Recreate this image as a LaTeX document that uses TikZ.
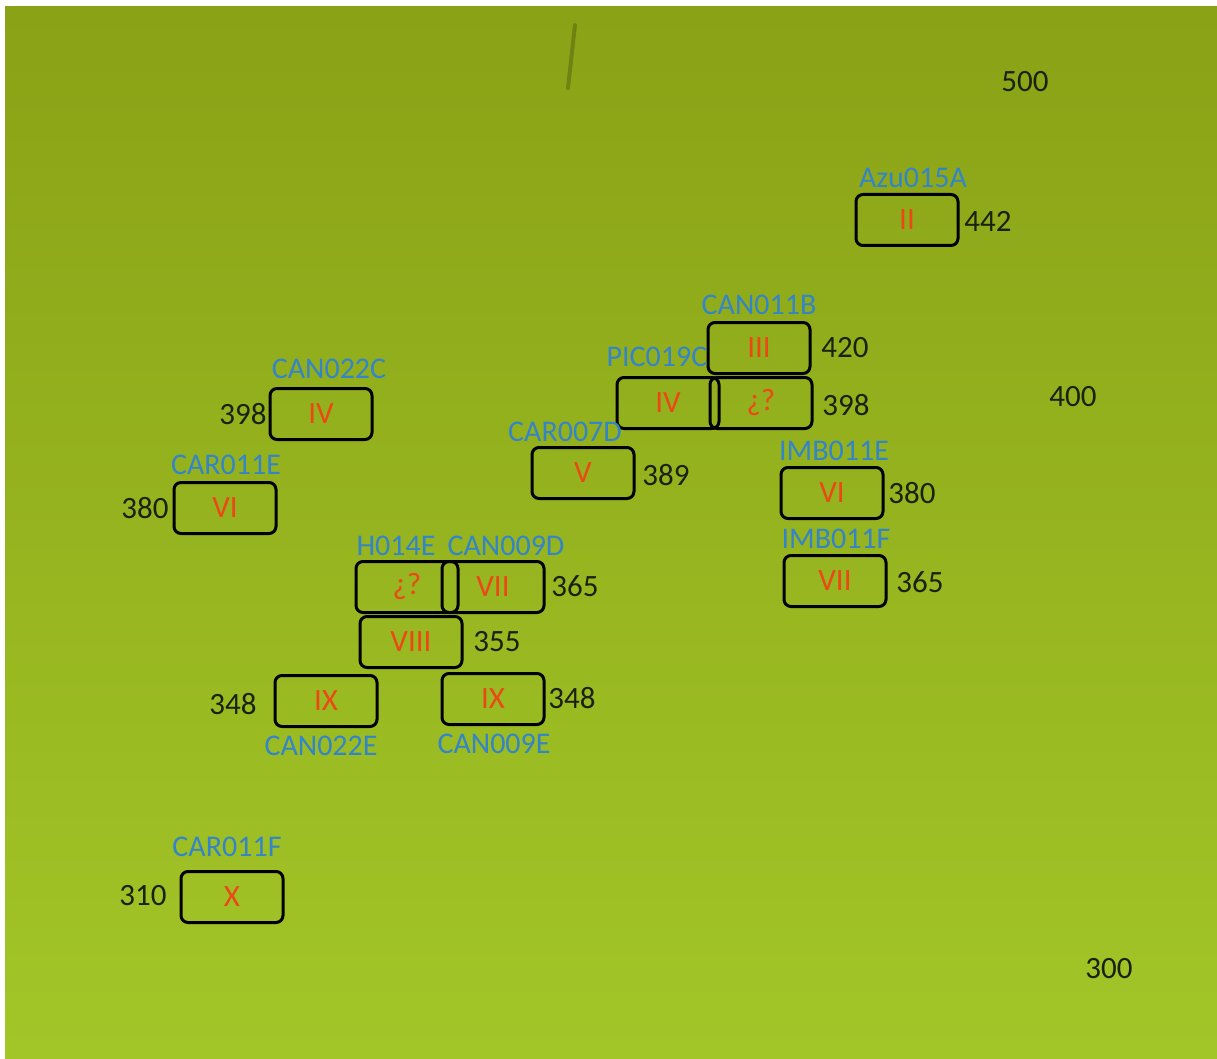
\documentclass[tikz,border=0pt]{standalone}
\usepackage{fontspec}
\setmainfont{Carlito}
\definecolor{geltop}{RGB}{138,162,22}
\definecolor{gelmid}{RGB}{150,180,30}
\definecolor{gelbottom}{RGB}{162,198,40}
\definecolor{lanename}{RGB}{52,132,200}
\definecolor{allele}{RGB}{236,72,22}
\definecolor{sizeink}{RGB}{24,34,14}
\tikzset{
  band/.style={draw=black,line width=3pt,rounded corners=7pt,
    minimum width=102pt,minimum height=51pt,inner sep=0pt,
    text=allele,font=\fontsize{31}{36}\selectfont},
  lane/.style={text=lanename,inner sep=0pt,font=\fontsize{30}{35}\selectfont},
  size/.style={text=sizeink,inner sep=0pt,font=\fontsize{31}{36}\selectfont}
}
\begin{document}
\begin{tikzpicture}[x=1pt,y=-1pt]
                \useasboundingbox (0,0) rectangle (1217,1059);
                \fill[white] (0,0) rectangle (1217,1059);
                \shade[top color=geltop,middle color=gelmid,bottom color=gelbottom] (5,7) rectangle (1217,1058);
                \draw[black,opacity=0.2,line width=4pt,line cap=round] (575,25) -- (568,88);
                % ladder
                \node[size] (m500) at (1025,82) {500};
                \node[size] (m400) at (1073,397) {400};
                \node[size] (m300) at (1109,969) {300};
                % bands
                \node[band] (b2) at (907,220) {II};
                \node[lane] (l2) at (913,178) {Azu015A};
                \node[size] (s2) at (988,221) {442};
                \node[band] (b3) at (759,348) {III};
                \node[lane] (l3) at (759,305) {CAN011B};
                \node[size] (s3) at (845,348) {420};
                \node[lane] (l4a) at (657,357) {PIC019C};
                \node[band] (b4a) at (668,403) {IV};
                \node[band] (b4q) at (761,403) {¿?};
                \node[size] (s4q) at (846,405) {398};
                \node[band] (b4b) at (321,414) {IV};
                \node[lane] (l4b) at (329,369) {CAN022C};
                \node[size] (s4b) at (243,414) {398};
                \node[lane] (l5) at (565,432) {CAR007D};
                \node[band] (b5) at (583,473) {V};
                \node[size] (s5) at (666,475) {389};
                \node[band] (b6a) at (225,508) {VI};
                \node[lane] (l6a) at (226,465) {CAR011E};
                \node[size] (s6a) at (145,508) {380};
                \node[band] (b6b) at (832,493) {VI};
                \node[lane] (l6b) at (834,451) {IMB011E};
                \node[size] (s6b) at (912,493) {380};
                \node[band] (b7a) at (835,581) {VII};
                \node[lane] (l7a) at (836,539) {IMB011F};
                \node[size] (s7a) at (920,582) {365};
                \node[band] (b7q) at (407,587) {¿?};
                \node[band] (b7b) at (493,587) {VII};
                \node[lane] (l7q) at (396,546) {H014E};
                \node[lane] (l7b) at (506,546) {CAN009D};
                \node[size] (s7b) at (575,586) {365};
                \node[band] (b8) at (411,642) {VIII};
                \node[size] (s8) at (497,642) {355};
                \node[band] (b9a) at (326,701) {IX};
                \node[lane] (l9a) at (321,746) {CAN022E};
                \node[size] (s9a) at (233,704) {348};
                \node[band] (b9b) at (493,699) {IX};
                \node[lane] (l9b) at (494,744) {CAN009E};
                \node[size] (s9b) at (572,698) {348};
                \node[band] (b10) at (232,897) {X};
                \node[lane] (l10) at (227,847) {CAR011F};
                \node[size] (s10) at (143,896) {310};
            \end{tikzpicture}
\end{document}
